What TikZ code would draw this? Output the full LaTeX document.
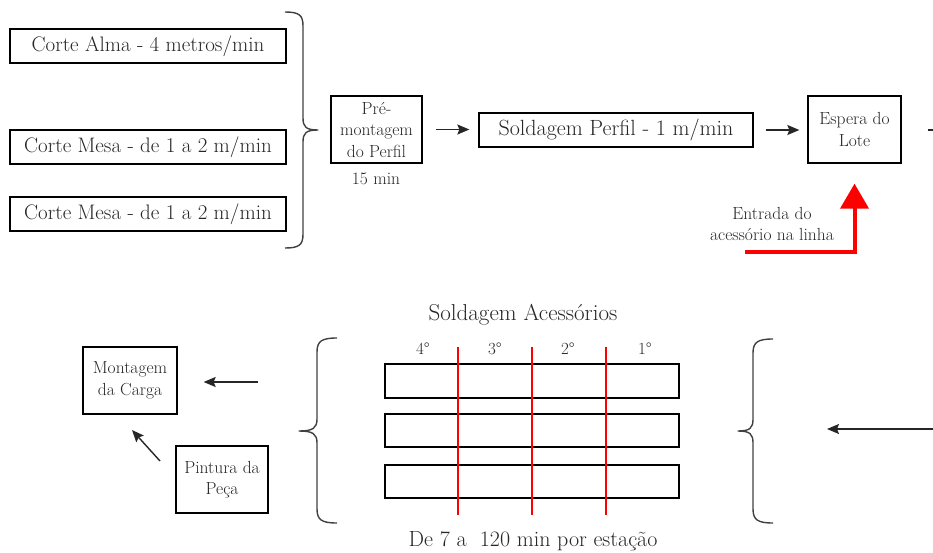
\documentclass[tikz,border=0pt]{standalone}
\usepackage{fontspec}
\usetikzlibrary{arrows.meta}

\tikzset{
  box/.style={draw=black, line width=1.3pt, inner sep=0pt, align=center,
    text=black!85},
  big/.style={font=\fontsize{21}{24}\selectfont},
  bigger/.style={font=\fontsize{22}{25}\selectfont},
  title/.style={font=\fontsize{23}{26}\selectfont},
  small/.style={font=\fontsize{17.5}{21.5}\selectfont},
  ordinal/.style={font=\fontsize{17}{20}\selectfont},
  txt/.style={inner sep=0pt, align=center, text=black!85},
  flow/.style={line width=1.4pt, draw=black!85,
    -{Stealth[length=12pt, width=10pt, inset=2pt]}},
  curly/.style={line width=1.4pt, draw=black!75, line join=round},
  divider/.style={line width=1.4pt, draw=red},
  feed/.style={line width=4pt, draw=red,
    -{Triangle[length=25pt, width=28pt]}},
}

\begin{document}
\begin{tikzpicture}[x=1pt, y=-1pt]
\useasboundingbox (0,0) rectangle (933,552);

% cutting stations
\node[box, big, minimum width=276pt, minimum height=34pt] (alma)  at (148,46)  {Corte Alma - 4 metros/min};
\node[box, big, minimum width=276pt, minimum height=34pt] (mesa1) at (148,147) {Corte Mesa - de 1 a 2 m/min};
\node[box, big, minimum width=276pt, minimum height=34pt] (mesa2) at (148,214) {Corte Mesa - de 1 a 2 m/min};

% brace gathering the cut parts
\draw[curly] (285,12) .. controls (299,12) and (303,15) .. (303,26)
  -- (303,118) .. controls (303,127) and (306,130) .. (318,130)
  .. controls (306,130) and (303,133) .. (303,142)
  -- (303,234) .. controls (303,245) and (299,248) .. (285,248);

% profile line
\node[box, small, minimum width=91pt, minimum height=67pt] (pre) at (376.5,129.5) {Pré-\\montagem\\do Perfil};
\node[txt, small] (pretime) at (376,179) {15 min};
\node[box, bigger, minimum width=274pt, minimum height=34pt] (solda) at (616,130) {Soldagem Perfil - 1 m/min};
\node[box, small, minimum width=93pt, minimum height=67pt] (espera) at (854.5,129.5) {Espera do\\Lote};
\coordinate (saida) at (933,130);

\draw[flow, shorten <=13pt, shorten >=9pt] (pre.east) -- (solda.west |- pre.east);
\draw[flow, shorten <=12pt, shorten >=8pt] (solda.east) -- (espera.west |- solda.east);
\draw[line width=1.4pt, draw=black!85, shorten <=26pt] (espera.east |- saida) -- (saida);

% accessories entering the line
\node[txt, small] (entrada) at (772,224) {Entrada do\\acessório na linha};
\coordinate (feedstart) at (745,252);
\draw[feed, shorten >=20pt] (feedstart) -| (espera.south);

% accessory welding stations
\node[txt, title] (titulo) at (523,315) {Soldagem Acessórios};
\node[box, minimum width=294pt, minimum height=34pt] (row1) at (532,381) {};
\node[box, minimum width=294pt, minimum height=33pt] (row2) at (532,430.5) {};
\node[box, minimum width=294pt, minimum height=33pt] (row3) at (532,481.5) {};

\node[txt, ordinal] (st4) at (423,349) {4°};
\node[txt, ordinal] (st3) at (495,349) {3°};
\node[txt, ordinal] (st2) at (568,349) {2°};
\node[txt, ordinal] (st1) at (645,349) {1°};

\foreach \x/\n in {458/a, 532/b, 606/c} {
  \coordinate (div\n top) at (\x,347);
  \coordinate (div\n bot) at (\x,515);
  \draw[divider] (div\n top) -- (div\n bot);
}

\node[txt, bigger] (tempo) at (533,541) {De 7 a \ 120 min por estação};

% braces round the welding area
\draw[curly] (337,338) .. controls (322,338) and (317,341) .. (317,352)
  -- (317,419) .. controls (317,428) and (313,431) .. (299,431)
  .. controls (313,431) and (317,434) .. (317,443)
  -- (317,509) .. controls (317,520) and (322,523) .. (337,523);
\draw[curly] (773,339) .. controls (758,339) and (753,342) .. (753,353)
  -- (753,419) .. controls (753,428) and (750,431) .. (738,431)
  .. controls (750,431) and (753,434) .. (753,443)
  -- (753,509) .. controls (753,520) and (758,523) .. (773,523);

% incoming flow and final assembly
\coordinate (entra) at (933,429);
\coordinate (chave) at (738,429);
\draw[flow, shorten >=89pt] (entra) -- (chave);

\node[box, small, minimum width=94pt, minimum height=67pt] (montagem) at (130,380.5) {Montagem\\da Carga};
\node[box, small, minimum width=92pt, minimum height=67pt] (pintura) at (222,479.5) {Pintura da\\Peça};

\coordinate (dasolda) at (258,382);
\draw[flow, shorten >=26pt] (dasolda) -- (montagem.east |- dasolda);
\coordinate (dapintura) at (160,461);
\coordinate (paramont) at (132,430);
\draw[flow] (dapintura) -- (paramont);
\end{tikzpicture}
\end{document}
